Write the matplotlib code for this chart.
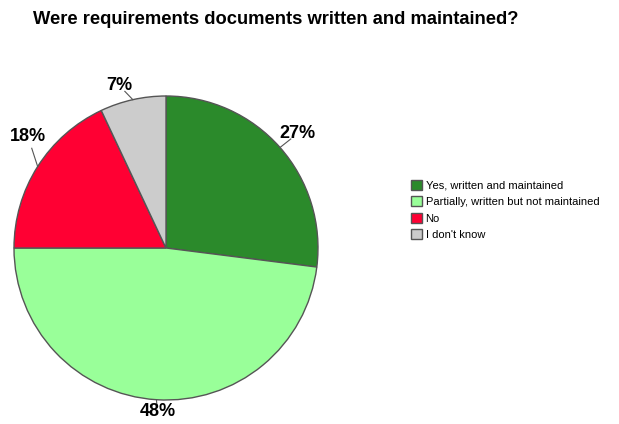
import matplotlib.pyplot as plt
import numpy as np

plt.rcParams['font.family'] = ['Liberation Sans', 'DejaVu Sans']

titulo = 'Were requirements documents written and maintained?'
categorias = ['Yes, written and maintained',
              'Partially, written but not maintained',
              'No',
              "I don't know"]
valores = [27, 48, 18, 7]
cores = ['#2b8a2b', '#99ff99', '#ff0033', '#cccccc']

fig = plt.figure(figsize=(6.19, 4.24), dpi=100)
ax = fig.add_axes([14 / 619, 24 / 424, 304 / 619, 304 / 424])

fatias, _ = ax.pie(valores, colors=cores, startangle=90, counterclock=False,
                   wedgeprops={'edgecolor': '#555555', 'linewidth': 1.0})
ax.set_aspect('equal')
ax.set_xlim(-1, 1)
ax.set_ylim(-1, 1)

# posição dos rótulos (ângulo em graus, raio relativo)
ang_texto = [41, -93, 141, 106]
raio_texto = [1.15, 1.08, 1.17, 1.11]

acum = 0
for v, a_t, r_t in zip(valores, ang_texto, raio_texto):
    meio = np.deg2rad(90 - (acum + v / 2) / 100 * 360)
    acum += v
    bx, by = np.cos(meio), np.sin(meio)
    tx = r_t * np.cos(np.deg2rad(a_t))
    ty = r_t * np.sin(np.deg2rad(a_t))
    # linha de chamada da borda até perto do rótulo
    ax.plot([bx, bx + 0.6 * (tx - bx)], [by, by + 0.6 * (ty - by)],
            color='#555555', lw=0.8, clip_on=False)
    ax.text(tx, ty, f'{v}%', ha='center', va='center',
            fontsize=13, fontweight='bold')

fig.text(33 / 619, 1 - 20 / 424, titulo, fontsize=13.2, fontweight='bold',
         ha='left', va='center')

fig.legend(fatias, categorias, loc='upper left',
           bbox_to_anchor=(405 / 619, 1 - 174 / 424), frameon=False,
           fontsize=8, handlelength=1.05, handleheight=1.05,
           handletextpad=0.3, labelspacing=0.5, borderpad=0)

fig.savefig('out.png', dpi=100)
plt.close(fig)
